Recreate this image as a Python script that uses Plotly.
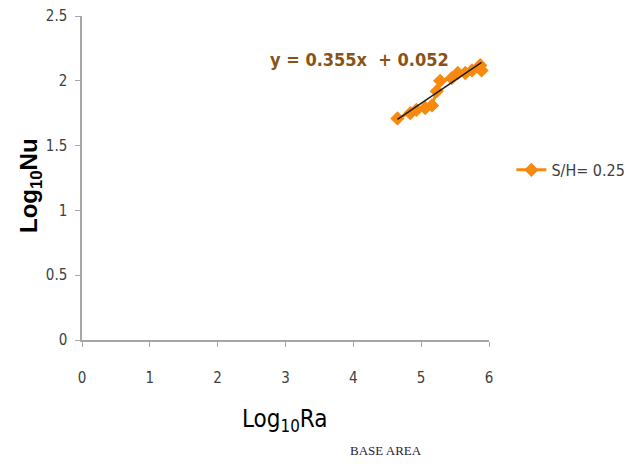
import plotly.graph_objects as go

log_ra = [4.65, 4.84, 4.93, 5.06, 5.16, 5.23, 5.28, 5.45, 5.54, 5.65, 5.75, 5.87, 5.89]
log_nu = [1.71, 1.75, 1.775, 1.79, 1.81, 1.92, 2.00, 2.02, 2.06, 2.06, 2.08, 2.12, 2.08]
slope, intercept = 0.355, 0.052
series_name = "S/H= 0.25"
x_ticks = [0, 1, 2, 3, 4, 5, 6]
y_ticks = [0, 0.5, 1, 1.5, 2, 2.5]

fit_x = [min(log_ra), max(log_ra)]
fit_y = [slope * v + intercept for v in fit_x]

NARROW = "DejaVu Sans Condensed, Liberation Sans Narrow, Liberation Sans"

fig = go.Figure()
fig.add_trace(go.Scatter(
    x=log_ra, y=log_nu, mode="lines+markers", name=series_name,
    line=dict(color="#F7890F", width=3),
    marker=dict(symbol="diamond", size=11, color="#F7890F"),
))
fig.add_trace(go.Scatter(
    x=fit_x, y=fit_y, mode="lines", showlegend=False,
    line=dict(color="#1a1a1a", width=1.5),
))

axis_common = dict(showline=True, linecolor="#A6A6A6", linewidth=1.5,
                   showgrid=False, zeroline=False, ticks="outside",
                   ticklen=5, tickcolor="#A6A6A6", ticklabeloverflow="allow",
                   automargin=False,
                   tickfont=dict(family=NARROW, size=15, color="#404040"))

fig.update_xaxes(range=[0, 6], tickvals=x_ticks, ticklabelstandoff=18, **axis_common)
fig.update_yaxes(range=[0, 2.5], tickvals=y_ticks, ticklabelstandoff=5, **axis_common)

fig.add_annotation(x=0.683, y=0.865, xref="paper", yref="paper",
                   xanchor="center", yanchor="middle",
                   text="<b>y = 0.355x  + 0.052</b>", showarrow=False,
                   font=dict(family=NARROW, size=18, color="#8A5217"))
fig.add_annotation(x=-0.128, y=0.478, xref="paper", yref="paper",
                   xanchor="center", yanchor="middle",
                   text="<b>Log<sub>10</sub>Nu</b>", showarrow=False, textangle=-90,
                   font=dict(family="Liberation Sans", size=24, color="#000000"))
fig.add_annotation(x=0.4975, y=-0.247, xref="paper", yref="paper",
                   xanchor="center", yanchor="middle",
                   text="Log<sub>10</sub>Ra", showarrow=False,
                   font=dict(family=NARROW, size=24, color="#000000"))
fig.add_annotation(x=0.747, y=-0.34, xref="paper", yref="paper",
                   xanchor="center", yanchor="middle",
                   text="BASE AREA", showarrow=False,
                   font=dict(family="Liberation Serif", size=13, color="#2a2040"))

fig.update_layout(
    width=633, height=465,
    margin=dict(l=74, r=152, t=8, b=133),
    paper_bgcolor="white", plot_bgcolor="white",
    legend=dict(x=1.055, y=0.525, xanchor="left", yanchor="middle",
                font=dict(family=NARROW, size=16, color="#404040"),
                itemwidth=30, tracegroupgap=0),
)

fig.write_html("out.html")
